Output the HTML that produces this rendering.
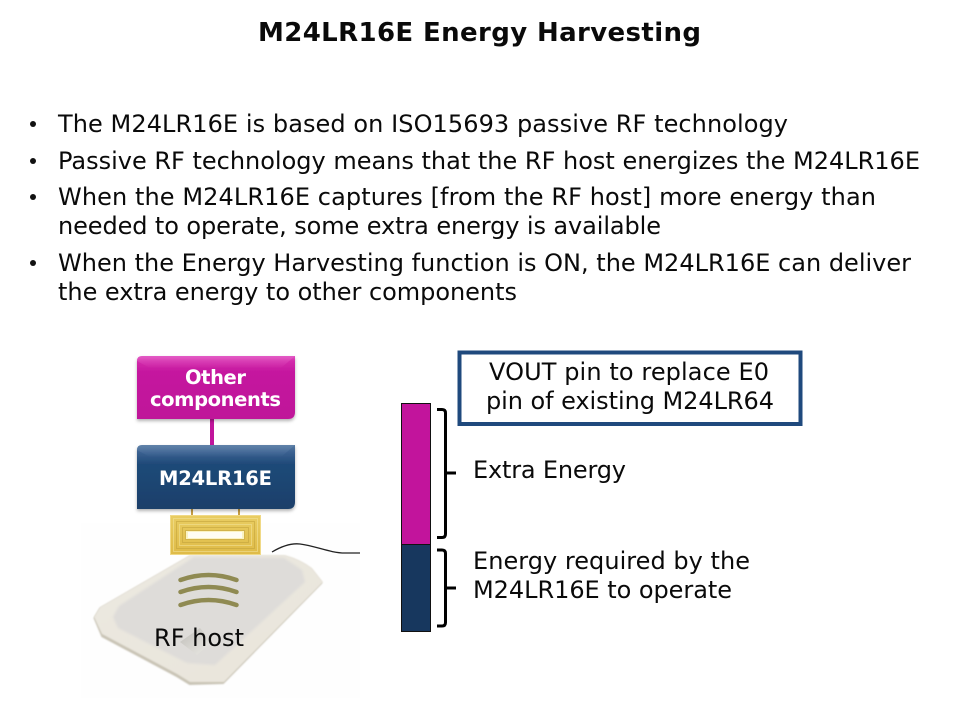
<!DOCTYPE html>
<html><head><meta charset="utf-8"><style>
html,body{margin:0;padding:0;background:#fff}
svg{display:block}
text{font-family:"DejaVu Sans","Liberation Sans",sans-serif;fill:#0a0a0a}
</style></head><body>
<svg width="960" height="720" viewBox="0 0 960 720" xmlns="http://www.w3.org/2000/svg">
<defs>
<linearGradient id="m" x1="0" y1="0" x2="0" y2="1"><stop offset="0" stop-color="#e04fc0"/><stop offset=".08" stop-color="#d22cab"/><stop offset=".25" stop-color="#c5179f"/><stop offset="1" stop-color="#bf1599"/></linearGradient>
<linearGradient id="n" x1="0" y1="0" x2="0" y2="1"><stop offset="0" stop-color="#55789f"/><stop offset=".12" stop-color="#3a6090"/><stop offset=".3" stop-color="#1f4a78"/><stop offset="1" stop-color="#1b3f6a"/></linearGradient>
<linearGradient id="mb" x1="0" y1="0" x2="0" y2="1"><stop offset="0" stop-color="#e665c9" stop-opacity=".55"/><stop offset="1" stop-color="#e665c9" stop-opacity="0"/></linearGradient>
<linearGradient id="nb" x1="0" y1="0" x2="0" y2="1"><stop offset="0" stop-color="#6b8cb3" stop-opacity=".5"/><stop offset="1" stop-color="#6b8cb3" stop-opacity="0"/></linearGradient>
<linearGradient id="g" x1="0" y1="0" x2="0" y2="1"><stop offset="0" stop-color="#e9cd62"/><stop offset="1" stop-color="#dfbb48"/></linearGradient>
<linearGradient id="r" x1="0" y1="0" x2="1" y2="1"><stop offset="0" stop-color="#ebe8e0"/><stop offset="1" stop-color="#e9e5db"/></linearGradient>
<linearGradient id="sq" x1="0" y1="0" x2="1" y2="1"><stop offset="0" stop-color="#bfbdb8"/><stop offset="1" stop-color="#ecebe6"/></linearGradient>
<filter id="s" x="-10%" y="-10%" width="120%" height="130%"><feDropShadow dx="0" dy="2" stdDeviation="1.500" flood-color="#000" flood-opacity=".3"/></filter>
<filter id="b"><feGaussianBlur stdDeviation=".7"/></filter>
<filter id="b2"><feGaussianBlur stdDeviation="1.200"/></filter>
</defs>

<text x="258" y="41" font-size="26" font-weight="700" textLength="443" lengthAdjust="spacing">M24LR16E Energy Harvesting</text>

<g fill="#111"><circle cx="33" cy="124" r="3"/><circle cx="33" cy="161" r="3"/><circle cx="33" cy="197" r="3"/><circle cx="33" cy="263" r="3"/></g>
<g font-size="24" lengthAdjust="spacing">
<text x="58" y="132" textLength="730">The M24LR16E is based on ISO15693 passive RF technology</text>
<text x="58" y="169" textLength="862">Passive RF technology means that the RF host energizes the M24LR16E</text>
<text x="58" y="205" textLength="818">When the M24LR16E captures [from the RF host] more energy than</text>
<text x="58" y="234" textLength="603">needed to operate, some extra energy is available</text>
<text x="58" y="271" textLength="853">When the Energy Harvesting function is ON, the M24LR16E can deliver</text>
<text x="58" y="300" textLength="459">the extra energy to other components</text>
</g>

<!-- reader background -->
<rect x="81" y="523" width="279" height="175" fill="#fefefe"/>
<path d="M272 552C282 546 291 543 300 544C316 546 330 553 345 553L360 553" fill="none" stroke="#222" stroke-width="1.300"/>
<path d="M190 555L285 555Q300 559 312 568L323 582L224 683L190 684L177 676L102 636L94 617L100 607Z" fill="#c9c4b6" transform="translate(-.5,1)" filter="url(#b)"/>
<path d="M190 555L285 555Q300 559 312 568L323 582L224 682L190 682L177 674L102 634L94 617L100 607Z" fill="url(#r)" filter="url(#b)"/>
<path d="M194 557L284 558L302 570L305 582L215 665L187 663L118 628L113 617L119 606Z" fill="#dedcd9" filter="url(#b2)"/>
<path d="M180 642L200 628L212 642L197 655Z" fill="url(#sq)"/>
<g fill="none" stroke="#8f8a52" stroke-width="4.500" stroke-linecap="round">
<path d="M180.500 580Q208.500 570 236.500 580"/>
<path d="M180.500 592Q208.500 582 236.500 592"/>
<path d="M180.500 605Q208.500 595 236.500 605"/>
</g>
<text x="154" y="646" font-size="24" textLength="90" lengthAdjust="spacing">RF host</text>

<!-- coil -->
<g stroke="#c79f45" stroke-width="2"><line x1="192" y1="509" x2="192" y2="516"/><line x1="239" y1="509" x2="239" y2="516"/></g>
<rect x="170.500" y="515.500" width="90" height="39" fill="url(#g)" stroke="#f0d986"/>
<g fill="none" stroke="#c4a43c" stroke-width=".6">
<rect x="173.500" y="518.500" width="84" height="33" stroke="#f2e296"/><rect x="176.500" y="521.500" width="78" height="27"/><rect x="179.500" y="524.500" width="72" height="21" stroke="#f2e296"/><rect x="182.500" y="527.500" width="66" height="15"/>
</g>
<rect x="185" y="530" width="60" height="10" fill="#d2b34a"/>
<rect x="186" y="531" width="58" height="8" fill="#fbf3c2"/>
<rect x="188" y="532" width="54" height="6" fill="#fffdf2"/>

<!-- stack -->
<rect x="210" y="419" width="4" height="27" fill="#c0159b"/>
<path d="M142 356H295V412Q295 419 288 419H137V361Q137 356 142 356Z" fill="url(#m)" filter="url(#s)"/>
<path d="M137 361Q137 356 142 356H295L281 368H150Z" fill="url(#mb)"/>
<path d="M142 445H295V502Q295 509 288 509H137V450Q137 445 142 445Z" fill="url(#n)" filter="url(#s)"/>
<path d="M137 450Q137 445 142 445H295L281 457H150Z" fill="url(#nb)"/>
<g font-size="19.500" font-weight="700" lengthAdjust="spacingAndGlyphs">
<text x="185" y="384" textLength="61" style="fill:#fff">Other</text>
<text x="150" y="406" textLength="131" style="fill:#fff">components</text>
<text x="159" y="485" textLength="113" style="fill:#fff">M24LR16E</text>
</g>

<!-- bar -->
<rect x="401.500" y="403.500" width="29" height="141" fill="#c2149c" stroke="#111"/>
<rect x="401.500" y="544.500" width="29" height="87" fill="#17375e" stroke="#111"/>

<!-- braces -->
<g fill="none" stroke="#000" stroke-width="3" stroke-linejoin="round">
<path d="M437 409.500H442Q445.500 409.500 445.500 413V534Q445.500 537.500 442 537.500H437"/>
<path d="M445.500 473H456"/>
<path d="M437 550H442Q445.500 550 445.500 553.500V622.500Q445.500 626 442 626H437"/>
<path d="M445.500 588H456"/>
</g>

<!-- callout -->
<rect x="459.500" y="352.500" width="341" height="71.500" fill="#fff" stroke="#1f497d" stroke-width="4"/>
<g font-size="24" lengthAdjust="spacing">
<text x="489" y="380" textLength="280">VOUT pin to replace E0</text>
<text x="486" y="409" textLength="288">pin of existing M24LR64</text>
<text x="473" y="478" textLength="153">Extra Energy</text>
<text x="473" y="569" textLength="277">Energy required by the</text>
<text x="473" y="598" textLength="259">M24LR16E to operate</text>
</g>
</svg>
</body></html>
